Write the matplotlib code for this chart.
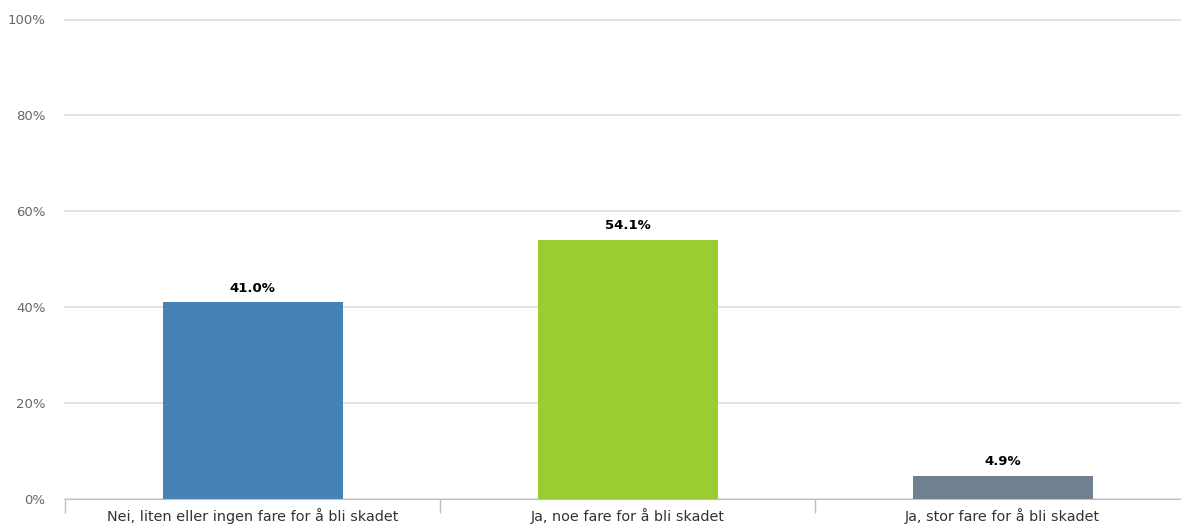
import matplotlib.pyplot as plt

# data
categories = ["Nei, liten eller ingen fare for å bli skadet",
              "Ja, noe fare for å bli skadet",
              "Ja, stor fare for å bli skadet"]
values = [41.0, 54.1, 4.9]
colors = ["#4682b4", "#9acd32", "#708090"]
yticks = [0, 20, 40, 60, 80, 100]

fig = plt.figure(figsize=(11.81, 5.26), dpi=100)
W, H = 1181, 526
ax = fig.add_axes([65 / W, 27 / H, 1125 / W, 479.5 / H])

x = range(len(categories))
bars = ax.bar(x, values, width=0.48, color=colors, zorder=3)

for i, v in enumerate(values):
    ax.text(i, v + 1.6, f"{v:.1f}%", ha="center", va="bottom",
            fontsize=9.5, fontweight="bold", color="#000000")

ax.set_xlim(-0.5, 2.5)
ax.set_ylim(0, 100)
ax.set_yticks(yticks)
ax.set_yticklabels([f"{t}%" for t in yticks], fontsize=9.5, color="#666666")
ax.tick_params(axis="y", length=0, pad=14)

# category boundaries as ticks under the axis
ax.set_xticks([-0.5, 0.5, 1.5, 2.5])
ax.set_xticklabels([])
ax.tick_params(axis="x", length=10, color="#c0c0c0", width=1)
for i, c in enumerate(categories):
    ax.text(i, -1.9, c, ha="center", va="top", fontsize=10.4, color="#333333",
            clip_on=False)

ax.grid(axis="y", color="#e3e3e3", linewidth=1.4, zorder=0)
for gl in ax.get_ygridlines():
    gl.set_clip_on(False)
for s in ["top", "right", "left"]:
    ax.spines[s].set_visible(False)
ax.spines["bottom"].set_color("#c0c0c0")
ax.spines["bottom"].set_zorder(4)

fig.savefig("out.png", dpi=100)
